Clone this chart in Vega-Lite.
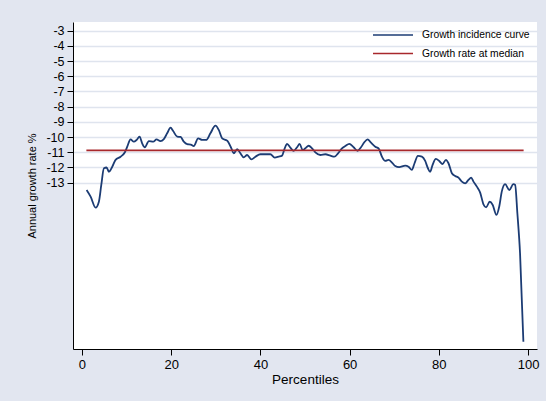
{
  "$schema": "https://vega.github.io/schema/vega-lite/v6.json",
  "width": 464,
  "height": 327,
  "autosize": {"type": "none"},
  "padding": {"left": 73, "top": 22, "right": 9, "bottom": 52},
  "background": "#e2e6f0",
  "config": {
    "view": {"stroke": null, "fill": "white"},
    "font": "Liberation Sans",
    "axis": {
      "domainColor": "black",
      "domainWidth": 1,
      "tickColor": "black",
      "tickWidth": 1,
      "tickSize": 6,
      "labelColor": "black",
      "titleColor": "black",
      "labelFont": "Liberation Sans",
      "titleFont": "Liberation Sans",
      "titleFontWeight": "normal"
    }
  },
  "data": {
    "values": [
      {"p": 1.05, "g": -13.48, "series": "Growth incidence curve"},
      {"p": 1.95, "g": -13.92, "series": "Growth incidence curve"},
      {"p": 3.07, "g": -14.64, "series": "Growth incidence curve"},
      {"p": 3.8, "g": -14.25, "series": "Growth incidence curve"},
      {"p": 4.34, "g": -13.15, "series": "Growth incidence curve"},
      {"p": 4.93, "g": -12.05, "series": "Growth incidence curve"},
      {"p": 5.53, "g": -12.0, "series": "Growth incidence curve"},
      {"p": 6.05, "g": -12.28, "series": "Growth incidence curve"},
      {"p": 6.8, "g": -11.95, "series": "Growth incidence curve"},
      {"p": 7.54, "g": -11.5, "series": "Growth incidence curve"},
      {"p": 8.66, "g": -11.29, "series": "Growth incidence curve"},
      {"p": 9.63, "g": -11.0, "series": "Growth incidence curve"},
      {"p": 10.16, "g": -10.63, "series": "Growth incidence curve"},
      {"p": 10.9, "g": -10.15, "series": "Growth incidence curve"},
      {"p": 11.64, "g": -10.3, "series": "Growth incidence curve"},
      {"p": 12.25, "g": -10.19, "series": "Growth incidence curve"},
      {"p": 12.92, "g": -9.97, "series": "Growth incidence curve"},
      {"p": 13.5, "g": -10.41, "series": "Growth incidence curve"},
      {"p": 14.1, "g": -10.67, "series": "Growth incidence curve"},
      {"p": 15.0, "g": -10.26, "series": "Growth incidence curve"},
      {"p": 15.98, "g": -10.3, "series": "Growth incidence curve"},
      {"p": 16.72, "g": -10.15, "series": "Growth incidence curve"},
      {"p": 17.6, "g": -10.26, "series": "Growth incidence curve"},
      {"p": 18.36, "g": -10.13, "series": "Growth incidence curve"},
      {"p": 19.1, "g": -9.75, "series": "Growth incidence curve"},
      {"p": 19.86, "g": -9.38, "series": "Growth incidence curve"},
      {"p": 20.45, "g": -9.6, "series": "Growth incidence curve"},
      {"p": 21.36, "g": -9.97, "series": "Growth incidence curve"},
      {"p": 22.1, "g": -9.99, "series": "Growth incidence curve"},
      {"p": 22.83, "g": -10.3, "series": "Growth incidence curve"},
      {"p": 23.6, "g": -10.47, "series": "Growth incidence curve"},
      {"p": 24.4, "g": -10.5, "series": "Growth incidence curve"},
      {"p": 25.07, "g": -10.59, "series": "Growth incidence curve"},
      {"p": 26.06, "g": -10.08, "series": "Growth incidence curve"},
      {"p": 26.95, "g": -10.19, "series": "Growth incidence curve"},
      {"p": 27.85, "g": -10.19, "series": "Growth incidence curve"},
      {"p": 28.8, "g": -9.75, "series": "Growth incidence curve"},
      {"p": 29.93, "g": -9.25, "series": "Growth incidence curve"},
      {"p": 30.67, "g": -9.53, "series": "Growth incidence curve"},
      {"p": 31.43, "g": -10.08, "series": "Growth incidence curve"},
      {"p": 32.55, "g": -10.24, "series": "Growth incidence curve"},
      {"p": 33.5, "g": -10.74, "series": "Growth incidence curve"},
      {"p": 34.03, "g": -11.07, "series": "Growth incidence curve"},
      {"p": 34.79, "g": -10.8, "series": "Growth incidence curve"},
      {"p": 35.53, "g": -11.07, "series": "Growth incidence curve"},
      {"p": 36.27, "g": -11.33, "series": "Growth incidence curve"},
      {"p": 37.03, "g": -11.18, "series": "Growth incidence curve"},
      {"p": 38.0, "g": -11.46, "series": "Growth incidence curve"},
      {"p": 38.89, "g": -11.29, "series": "Growth incidence curve"},
      {"p": 40.0, "g": -11.13, "series": "Growth incidence curve"},
      {"p": 41.12, "g": -11.13, "series": "Growth incidence curve"},
      {"p": 42.24, "g": -11.13, "series": "Growth incidence curve"},
      {"p": 43.2, "g": -11.35, "series": "Growth incidence curve"},
      {"p": 44.1, "g": -11.29, "series": "Growth incidence curve"},
      {"p": 44.86, "g": -11.22, "series": "Growth incidence curve"},
      {"p": 45.45, "g": -10.74, "series": "Growth incidence curve"},
      {"p": 45.98, "g": -10.45, "series": "Growth incidence curve"},
      {"p": 46.72, "g": -10.7, "series": "Growth incidence curve"},
      {"p": 47.46, "g": -10.91, "series": "Growth incidence curve"},
      {"p": 48.22, "g": -10.67, "series": "Growth incidence curve"},
      {"p": 48.8, "g": -10.45, "series": "Growth incidence curve"},
      {"p": 49.47, "g": -10.85, "series": "Growth incidence curve"},
      {"p": 50.08, "g": -10.74, "series": "Growth incidence curve"},
      {"p": 50.82, "g": -10.57, "series": "Growth incidence curve"},
      {"p": 51.58, "g": -10.74, "series": "Growth incidence curve"},
      {"p": 52.32, "g": -11.0, "series": "Growth incidence curve"},
      {"p": 53.44, "g": -11.18, "series": "Growth incidence curve"},
      {"p": 54.56, "g": -11.13, "series": "Growth incidence curve"},
      {"p": 55.68, "g": -11.22, "series": "Growth incidence curve"},
      {"p": 56.57, "g": -11.29, "series": "Growth incidence curve"},
      {"p": 57.4, "g": -11.07, "series": "Growth incidence curve"},
      {"p": 58.29, "g": -10.74, "series": "Growth incidence curve"},
      {"p": 59.03, "g": -10.59, "series": "Growth incidence curve"},
      {"p": 59.93, "g": -10.45, "series": "Growth incidence curve"},
      {"p": 60.89, "g": -10.67, "series": "Growth incidence curve"},
      {"p": 61.79, "g": -10.9, "series": "Growth incidence curve"},
      {"p": 62.55, "g": -10.67, "series": "Growth incidence curve"},
      {"p": 63.29, "g": -10.34, "series": "Growth incidence curve"},
      {"p": 64.03, "g": -10.15, "series": "Growth incidence curve"},
      {"p": 64.79, "g": -10.37, "series": "Growth incidence curve"},
      {"p": 65.75, "g": -10.63, "series": "Growth incidence curve"},
      {"p": 66.49, "g": -10.74, "series": "Growth incidence curve"},
      {"p": 67.25, "g": -11.29, "series": "Growth incidence curve"},
      {"p": 67.99, "g": -11.57, "series": "Growth incidence curve"},
      {"p": 68.73, "g": -11.5, "series": "Growth incidence curve"},
      {"p": 69.49, "g": -11.68, "series": "Growth incidence curve"},
      {"p": 70.22, "g": -11.9, "series": "Growth incidence curve"},
      {"p": 71.1, "g": -11.97, "series": "Growth incidence curve"},
      {"p": 72.46, "g": -11.88, "series": "Growth incidence curve"},
      {"p": 73.2, "g": -11.95, "series": "Growth incidence curve"},
      {"p": 73.96, "g": -12.16, "series": "Growth incidence curve"},
      {"p": 74.55, "g": -11.72, "series": "Growth incidence curve"},
      {"p": 75.31, "g": -11.24, "series": "Growth incidence curve"},
      {"p": 76.2, "g": -11.29, "series": "Growth incidence curve"},
      {"p": 76.94, "g": -11.57, "series": "Growth incidence curve"},
      {"p": 77.55, "g": -12.05, "series": "Growth incidence curve"},
      {"p": 78.06, "g": -12.28, "series": "Growth incidence curve"},
      {"p": 78.58, "g": -11.84, "series": "Growth incidence curve"},
      {"p": 79.34, "g": -11.44, "series": "Growth incidence curve"},
      {"p": 80.08, "g": -11.57, "series": "Growth incidence curve"},
      {"p": 80.82, "g": -11.77, "series": "Growth incidence curve"},
      {"p": 81.58, "g": -11.5, "series": "Growth incidence curve"},
      {"p": 82.16, "g": -11.72, "series": "Growth incidence curve"},
      {"p": 82.92, "g": -12.38, "series": "Growth incidence curve"},
      {"p": 83.66, "g": -12.56, "series": "Growth incidence curve"},
      {"p": 84.4, "g": -12.67, "series": "Growth incidence curve"},
      {"p": 85.16, "g": -12.93, "series": "Growth incidence curve"},
      {"p": 85.9, "g": -13.04, "series": "Growth incidence curve"},
      {"p": 86.64, "g": -12.82, "series": "Growth incidence curve"},
      {"p": 87.24, "g": -12.67, "series": "Growth incidence curve"},
      {"p": 87.76, "g": -12.93, "series": "Growth incidence curve"},
      {"p": 88.52, "g": -13.26, "series": "Growth incidence curve"},
      {"p": 89.26, "g": -13.65, "series": "Growth incidence curve"},
      {"p": 90.0, "g": -14.42, "series": "Growth incidence curve"},
      {"p": 90.6, "g": -14.62, "series": "Growth incidence curve"},
      {"p": 91.4, "g": -14.25, "series": "Growth incidence curve"},
      {"p": 92.05, "g": -14.45, "series": "Growth incidence curve"},
      {"p": 92.9, "g": -15.12, "series": "Growth incidence curve"},
      {"p": 93.55, "g": -14.55, "series": "Growth incidence curve"},
      {"p": 94.1, "g": -13.59, "series": "Growth incidence curve"},
      {"p": 94.85, "g": -13.09, "series": "Growth incidence curve"},
      {"p": 95.8, "g": -13.48, "series": "Growth incidence curve"},
      {"p": 96.7, "g": -13.09, "series": "Growth incidence curve"},
      {"p": 97.1, "g": -13.15, "series": "Growth incidence curve"},
      {"p": 97.6, "g": -15.01, "series": "Growth incidence curve"},
      {"p": 98.2, "g": -17.64, "series": "Growth incidence curve"},
      {"p": 98.95, "g": -23.46, "series": "Growth incidence curve"},
      {"p": 1, "g": -10.87, "series": "Growth rate at median"},
      {"p": 99, "g": -10.87, "series": "Growth rate at median"}
    ]
  },
  "mark": {"type": "line", "strokeWidth": 1.8, "interpolate": "monotone"},
  "encoding": {
    "x": {
      "field": "p",
      "type": "quantitative",
      "scale": {"domain": [-2, 102], "nice": false, "zero": false},
      "axis": {
        "values": [0, 20, 40, 60, 80, 100],
        "title": "Percentiles",
        "labelFontSize": 13,
        "titleFontSize": 13.5,
        "labelPadding": 3,
        "titlePadding": 1,
        "grid": false
      }
    },
    "y": {
      "field": "g",
      "type": "quantitative",
      "scale": {"domain": [-23.94, -2.43], "nice": false, "zero": false},
      "axis": {
        "values": [-3, -4, -5, -6, -7, -8, -9, -10, -11, -12, -13],
        "labelExpr": "'' + datum.value",
        "title": "Annual growth rate %",
        "labelFontSize": 12.5,
        "titleFontSize": 11,
        "labelPadding": 3,
        "titlePadding": 8,
        "grid": true,
        "gridColor": "#dfe4ee",
        "gridWidth": 1.5
      }
    },
    "color": {
      "field": "series",
      "type": "nominal",
      "scale": {
        "domain": ["Growth incidence curve", "Growth rate at median"],
        "range": ["#1c3c74", "#a8282c"]
      },
      "legend": {
        "orient": "none",
        "legendX": 309,
        "legendY": 2,
        "padding": 0,
        "title": null,
        "symbolType": "M-2,0L2,0",
        "symbolSize": 400,
        "symbolStrokeWidth": 1.5,
        "labelFontSize": 10.3,
        "labelColor": "black",
        "labelFont": "Liberation Sans",
        "labelOffset": 18,
        "rowPadding": 1.5
      }
    }
  }
}
